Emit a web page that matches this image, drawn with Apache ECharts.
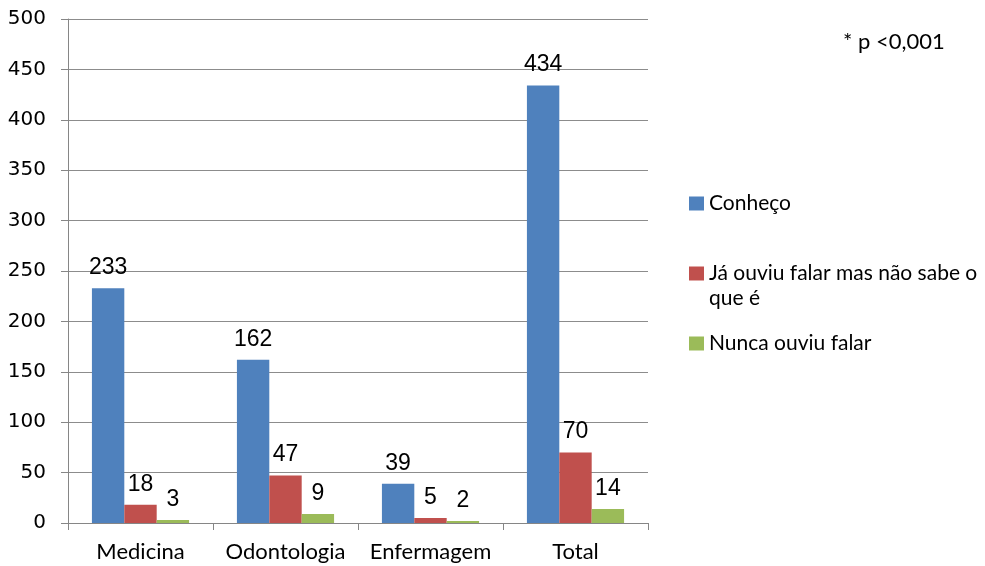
<!DOCTYPE html>
<html>
<head>
<meta charset="utf-8">
<script src="https://cdn.jsdelivr.net/npm/echarts@6/dist/echarts.min.js"></script>
<style>
  html, body { margin: 0; padding: 0; background: #fff; }
  #chart { width: 985px; height: 566px; }
</style>
</head>
<body>
<div id="chart"></div>
<script>
const categories = ['Medicina', 'Odontologia', 'Enfermagem', 'Total']
const seriesNames = ['Conheço', 'Já ouviu falar mas não sabe o que é', 'Nunca ouviu falar']
const conheco = [233, 162, 39, 434]
const jaOuviu = [18, 47, 5, 70]
const nunca = [3, 9, 2, 14]
const colors = ['#4F81BD', '#C0504D', '#9BBB59']
const note = '* p <0,001'

const chart = echarts.init(document.getElementById('chart'))

const barLabel = {
  show: true,
  position: 'top',
  distance: 9,
  color: '#000',
  fontSize: 23,
  fontFamily: 'Liberation Sans'
}

function makeSeries (name, data, color) {
  return {
    name: name,
    type: 'bar',
    data: data,
    barGap: 0,
    barCategoryGap: '33%',
    itemStyle: { color: color },
    label: barLabel,
    emphasis: { disabled: true }
  }
}

chart.setOption({
  animation: false,
  textStyle: { fontFamily: 'Lato' },
  title: {
    text: note,
    left: 838,
    top: 26,
    textStyle: { fontSize: 22, fontWeight: 'normal', color: '#000', fontFamily: 'Lato' }
  },
  grid: {
    left: 68,
    right: 337,
    top: 19,
    bottom: 43
  },
  legend: {
    orient: 'vertical',
    left: 684,
    top: 186,
    itemWidth: 15,
    itemHeight: 14,
    itemGap: 20,
    icon: 'rect',
    data: seriesNames,
    formatter: (name) => {
      if (name === seriesNames[1]) {
        return ' \nJá ouviu falar mas não sabe o\nque é'
      }
      return name
    },
    textStyle: {
      fontSize: 21,
      lineHeight: 25,
      color: '#000',
      fontFamily: 'Lato'
    }
  },
  xAxis: {
    type: 'category',
    data: categories,
    axisLine: { lineStyle: { color: '#868686' } },
    axisTick: { show: true, length: 7, lineStyle: { color: '#868686' } },
    axisLabel: { color: '#000', fontSize: 22, margin: 18, interval: 0, fontFamily: 'Lato' }
  },
  yAxis: {
    type: 'value',
    min: 0,
    max: 500,
    interval: 50,
    axisLine: { show: true, lineStyle: { color: '#868686' } },
    axisTick: { show: true, length: 7, lineStyle: { color: '#868686' } },
    axisLabel: { color: '#000', fontSize: 20, margin: 22, fontFamily: 'DejaVu Sans' },
    splitLine: { lineStyle: { color: '#8c8c8c' } }
  },
  series: [
    makeSeries(seriesNames[0], conheco, colors[0]),
    makeSeries(seriesNames[1], jaOuviu, colors[1]),
    makeSeries(seriesNames[2], nunca, colors[2])
  ]
})
</script>
</body>
</html>
